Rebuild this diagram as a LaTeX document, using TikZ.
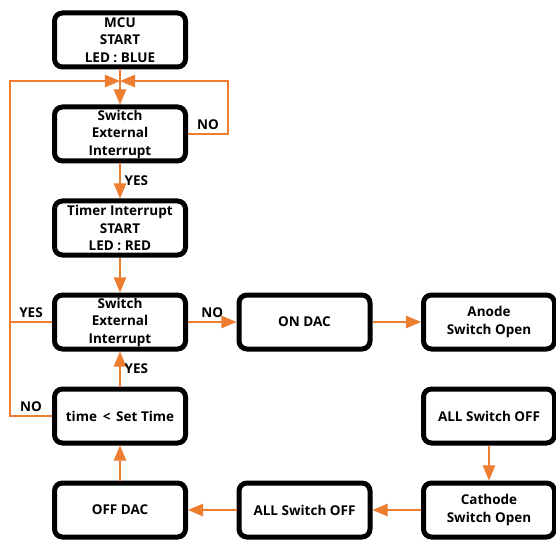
\documentclass[tikz,border=0pt]{standalone}
\usepackage{fontspec}
\setmainfont{Open Sans}
\usetikzlibrary{arrows}
\usetikzlibrary{calc}
\usetikzlibrary{positioning}
\definecolor{flow}{RGB}{237,125,49}
\tikzset{blk/.style={draw, line width=5pt, rounded corners=8pt, align=center,
    minimum width=131pt, minimum height=54pt, inner sep=1pt,
    font=\fontsize{13.5}{17.5}\selectfont\bfseries}}
\tikzset{lnk/.style={draw=flow, line width=2.6pt}}
\tikzset{lbl/.style={font=\fontsize{13.5}{15}\selectfont\bfseries}}

\begin{document}
\begin{tikzpicture}[->,>=triangle 45,node distance=35pt and 48.5pt]
   \useasboundingbox (0,0) rectangle (556pt,-545pt);
   \node[blk] (mcu) at (120pt,-40pt) {MCU\\START\\LED : BLUE};
   \node[blk] (sw1) [below=of mcu] {Switch\\External\\Interrupt};
   \node[blk] (tmr) [below=of sw1] {Timer Interrupt\\START\\LED : RED};
   \node[blk] (sw2) [below=of tmr] {Switch\\External\\Interrupt};
   \node[blk] (tcmp) [below=of sw2] {time \,<\, Set Time};
   \node[blk] (offdac) [below=of tcmp] {OFF DAC};
   \node[blk] (ondac) [right=of sw2] {ON DAC};
   \node[blk] (anode) [right=of ondac] {Anode\\Switch Open};
   \node[blk] (alloff) [below=of anode] {ALL Switch OFF};
   \node[blk] (cath) [below=of alloff] {Cathode\\Switch Open};
   \node[blk] (alloff2) [left=of cath] {ALL Switch OFF};

   \coordinate (j) at ($(mcu.south)!0.33!(sw1.north)$);
   \coordinate (lft) at ([xshift=-42pt]tcmp.west);

   % main column
   \draw[lnk] (mcu) -- (sw1);
   \draw[lnk] (sw1) -- node[lbl, right, black] {YES} (tmr);
   \draw[lnk] (tmr) -- (sw2);
   \draw[lnk] (sw1.east) -- node[lbl, above, black, pos=0.5] {NO} ++(40pt,0) |- (j);
   \draw[lnk] (tcmp.west) -- node[lbl, above, black] {NO} (lft) |- (j);
   \draw[lnk, -] (sw2.west) -- node[lbl, above, black] {YES} (sw2.west -| lft);
   \draw[lnk] (tcmp) -- node[lbl, right, black] {YES} (sw2);

   % right side
   \draw[lnk] (sw2) -- node[lbl, above, black] {NO} (ondac);
   \draw[lnk] (ondac) -- (anode);
   \draw[lnk] (alloff) -- (cath);
   \draw[lnk] (cath) -- (alloff2);
   \draw[lnk] (alloff2) -- (offdac);
   \draw[lnk] (offdac) -- (tcmp);
\end{tikzpicture}
\end{document}
